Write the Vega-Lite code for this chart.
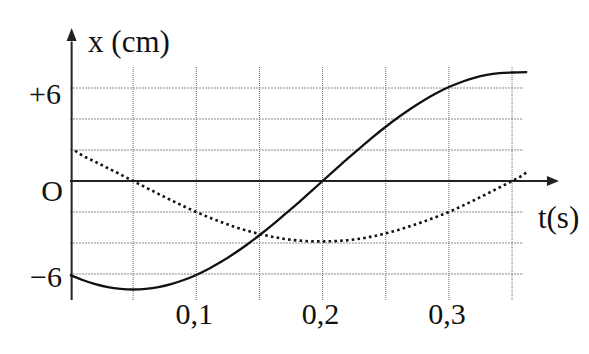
{
  "$schema": "https://vega.github.io/schema/vega-lite/v6.json",
  "autosize": {"type": "none"},
  "padding": {"left": 70, "top": 21, "right": 29, "bottom": 54},
  "width": 490,
  "height": 279,
  "background": "white",
  "config": {"view": {"stroke": null}},
  "datasets": {
    "solid": [
      {"t": 0.0, "x": -6.06}, {"t": 0.01, "x": -6.39}, {"t": 0.02, "x": -6.66}, {"t": 0.03, "x": -6.85},
      {"t": 0.04, "x": -6.96}, {"t": 0.05, "x": -7.0}, {"t": 0.06, "x": -6.96}, {"t": 0.07, "x": -6.85},
      {"t": 0.08, "x": -6.66}, {"t": 0.09, "x": -6.39}, {"t": 0.1, "x": -6.06}, {"t": 0.11, "x": -5.66},
      {"t": 0.12, "x": -5.2}, {"t": 0.13, "x": -4.68}, {"t": 0.14, "x": -4.11}, {"t": 0.15, "x": -3.5},
      {"t": 0.16, "x": -2.85}, {"t": 0.17, "x": -2.16}, {"t": 0.18, "x": -1.46}, {"t": 0.19, "x": -0.73},
      {"t": 0.2, "x": 0.0}, {"t": 0.21, "x": 0.73}, {"t": 0.22, "x": 1.46}, {"t": 0.23, "x": 2.16},
      {"t": 0.24, "x": 2.85}, {"t": 0.25, "x": 3.5}, {"t": 0.26, "x": 4.11}, {"t": 0.27, "x": 4.68},
      {"t": 0.28, "x": 5.2}, {"t": 0.29, "x": 5.66}, {"t": 0.3, "x": 6.06}, {"t": 0.31, "x": 6.39},
      {"t": 0.32, "x": 6.66}, {"t": 0.33, "x": 6.85}, {"t": 0.34, "x": 6.96}, {"t": 0.35, "x": 7.0},
      {"t": 0.362, "x": 7.02}
    ],
    "dotted": [
      {"t": 0.004, "x": 1.95}, {"t": 0.01, "x": 1.63}, {"t": 0.02, "x": 1.24}, {"t": 0.03, "x": 0.83},
      {"t": 0.04, "x": 0.42}, {"t": 0.05, "x": 0.0}, {"t": 0.06, "x": -0.42}, {"t": 0.07, "x": -0.83},
      {"t": 0.08, "x": -1.24}, {"t": 0.09, "x": -1.63}, {"t": 0.1, "x": -2.0}, {"t": 0.11, "x": -2.35},
      {"t": 0.12, "x": -2.66}, {"t": 0.13, "x": -2.95}, {"t": 0.14, "x": -3.2}, {"t": 0.15, "x": -3.42},
      {"t": 0.16, "x": -3.6}, {"t": 0.17, "x": -3.74}, {"t": 0.18, "x": -3.84}, {"t": 0.19, "x": -3.89},
      {"t": 0.2, "x": -3.9}, {"t": 0.21, "x": -3.88}, {"t": 0.22, "x": -3.82}, {"t": 0.23, "x": -3.72},
      {"t": 0.24, "x": -3.57}, {"t": 0.25, "x": -3.38}, {"t": 0.26, "x": -3.16}, {"t": 0.27, "x": -2.9},
      {"t": 0.28, "x": -2.62}, {"t": 0.29, "x": -2.32}, {"t": 0.3, "x": -2.0}, {"t": 0.31, "x": -1.63},
      {"t": 0.32, "x": -1.24}, {"t": 0.33, "x": -0.83}, {"t": 0.34, "x": -0.42}, {"t": 0.35, "x": 0.0},
      {"t": 0.356, "x": 0.25}, {"t": 0.3626, "x": 0.62}
    ],
    "vgrid": [{"t": 0.05}, {"t": 0.1}, {"t": 0.15}, {"t": 0.2}, {"t": 0.25}, {"t": 0.3}, {"t": 0.35}],
    "hgrid": [{"x": -6}, {"x": -4}, {"x": -2}, {"x": 2}, {"x": 4}, {"x": 6}],
    "ticks": [{"t": 0.1, "label": "0,1"}, {"t": 0.2, "label": "0,2"}, {"t": 0.3, "label": "0,3"}],
    "one": [{"k": 1}]
  },
  "layer": [
    {
      "data": {"name": "vgrid"},
      "mark": {"type": "rule", "color": "#6a6a6a", "strokeWidth": 1, "strokeDash": [1, 1]},
      "encoding": {
        "x": {"field": "t", "type": "quantitative", "scale": {"domain": [0, 0.38797], "nice": false, "zero": false}, "axis": null},
        "y": {"datum": -7.6774, "type": "quantitative", "scale": {"domain": [-7.6774, 10.3226], "nice": false, "zero": false}, "axis": null},
        "y2": {"datum": 7.35}
      }
    },
    {
      "data": {"name": "hgrid"},
      "mark": {"type": "rule", "color": "#8a8a8a", "strokeWidth": 1, "strokeDash": [2, 1]},
      "encoding": {
        "y": {"field": "x", "type": "quantitative", "axis": null},
        "x": {"datum": 0, "type": "quantitative", "axis": null},
        "x2": {"datum": 0.359}
      }
    },
    {
      "data": {"name": "one"},
      "mark": {"type": "rule", "color": "#222222", "strokeWidth": 2},
      "encoding": {
        "y": {"datum": 0, "type": "quantitative", "axis": null},
        "x": {"datum": 0, "type": "quantitative", "axis": null},
        "x2": {"datum": 0.3785}
      }
    },
    {
      "data": {"name": "one"},
      "mark": {"type": "rule", "color": "#222222", "strokeWidth": 2},
      "encoding": {
        "x": {"datum": 0.0013, "type": "quantitative", "axis": null},
        "y": {"datum": -7.6774, "type": "quantitative", "axis": null},
        "y2": {"datum": 9.0}
      }
    },
    {
      "data": {"name": "one"},
      "mark": {"type": "point", "shape": "M0,-1L0.77,1L-0.77,1Z", "size": 169, "filled": true, "color": "#222222", "opacity": 1, "strokeWidth": 0},
      "encoding": {
        "x": {"datum": 0.0013, "type": "quantitative", "axis": null},
        "y": {"datum": 9.45, "type": "quantitative", "axis": null}
      }
    },
    {
      "data": {"name": "one"},
      "mark": {"type": "point", "shape": "M1,0L-1,-0.83L-1,0.83Z", "size": 144, "filled": true, "color": "#222222", "opacity": 1, "strokeWidth": 0},
      "encoding": {
        "x": {"datum": 0.3824, "type": "quantitative", "axis": null},
        "y": {"datum": 0, "type": "quantitative", "axis": null}
      }
    },
    {
      "data": {"name": "dotted"},
      "mark": {"type": "line", "color": "#111111", "strokeWidth": 2.6, "strokeDash": [2.6, 3.2]},
      "encoding": {
        "x": {"field": "t", "type": "quantitative", "axis": null},
        "y": {"field": "x", "type": "quantitative", "axis": null}
      }
    },
    {
      "data": {"name": "solid"},
      "mark": {"type": "line", "color": "#111111", "strokeWidth": 2.3, "interpolate": "monotone"},
      "encoding": {
        "x": {"field": "t", "type": "quantitative", "axis": null},
        "y": {"field": "x", "type": "quantitative", "axis": null}
      }
    },
    {
      "data": {"name": "ticks"},
      "mark": {"type": "text", "font": "Liberation Serif", "fontSize": 30, "align": "center", "baseline": "alphabetic", "dx": -2, "dy": 24, "color": "#111111"},
      "encoding": {
        "x": {"field": "t", "type": "quantitative", "axis": null},
        "y": {"datum": -7.6774, "type": "quantitative", "axis": null},
        "text": {"field": "label", "type": "nominal"}
      }
    },
    {
      "data": {"name": "one"},
      "mark": {"type": "text", "text": "+6", "font": "Liberation Serif", "fontSize": 30, "align": "right", "baseline": "middle", "dx": -9, "dy": 6.5, "color": "#111111"},
      "encoding": {
        "x": {"datum": 0, "type": "quantitative", "axis": null},
        "y": {"datum": 6, "type": "quantitative", "axis": null}
      }
    },
    {
      "data": {"name": "one"},
      "mark": {"type": "text", "text": "O", "font": "Liberation Serif", "fontSize": 30, "align": "right", "baseline": "middle", "dx": -7, "dy": 11, "color": "#111111"},
      "encoding": {
        "x": {"datum": 0, "type": "quantitative", "axis": null},
        "y": {"datum": 0, "type": "quantitative", "axis": null}
      }
    },
    {
      "data": {"name": "one"},
      "mark": {"type": "text", "text": "\u22126", "font": "Liberation Serif", "fontSize": 30, "align": "right", "baseline": "middle", "dx": -8, "dy": 3.5, "color": "#111111"},
      "encoding": {
        "x": {"datum": 0, "type": "quantitative", "axis": null},
        "y": {"datum": -6, "type": "quantitative", "axis": null}
      }
    },
    {
      "data": {"name": "one"},
      "mark": {"type": "text", "text": "x (cm)", "font": "Liberation Serif", "fontSize": 31, "align": "left", "baseline": "alphabetic", "color": "#111111"},
      "encoding": {
        "x": {"datum": 0.0143, "type": "quantitative", "axis": null},
        "y": {"datum": 8.32, "type": "quantitative", "axis": null}
      }
    },
    {
      "data": {"name": "one"},
      "mark": {"type": "text", "text": "t(s)", "font": "Liberation Serif", "fontSize": 31, "align": "left", "baseline": "alphabetic", "color": "#111111"},
      "encoding": {
        "x": {"datum": 0.3705, "type": "quantitative", "axis": null},
        "y": {"datum": -3.03, "type": "quantitative", "axis": null}
      }
    }
  ]
}
